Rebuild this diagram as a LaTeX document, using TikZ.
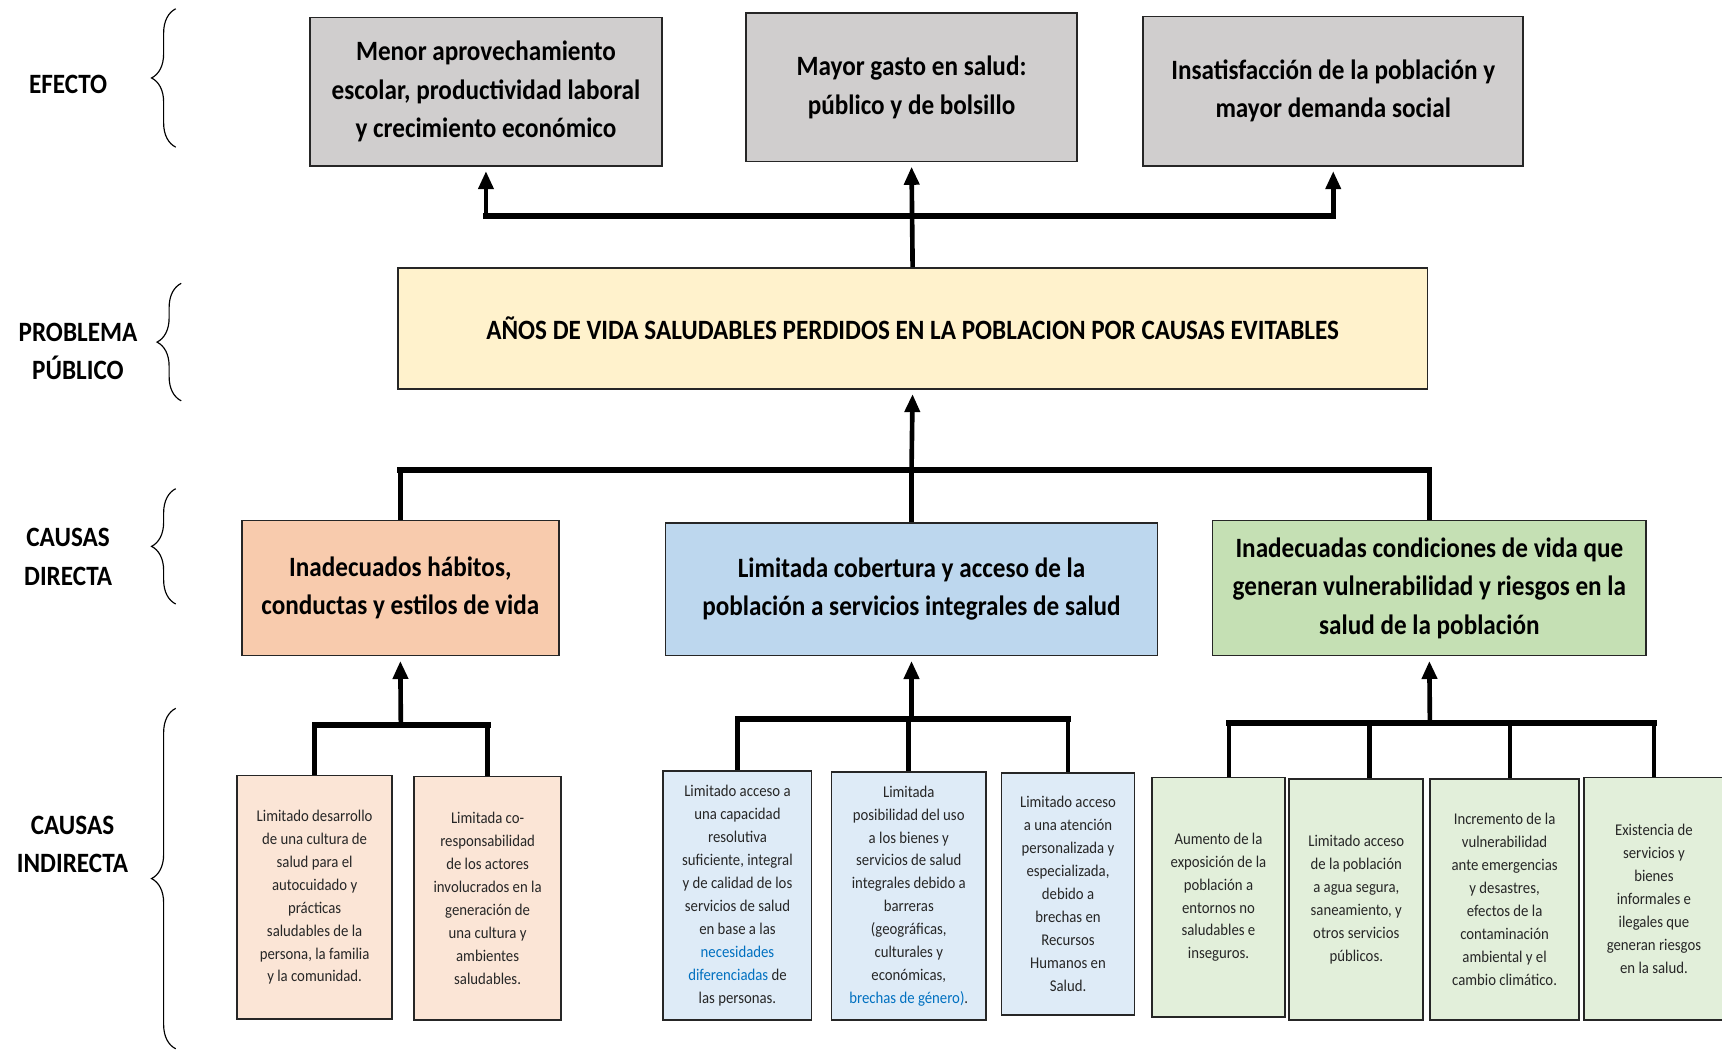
\documentclass[tikz,border=0pt]{standalone}
\usepackage{fontspec}
\setmainfont{Carlito}[FakeStretch=0.9]
\usepackage{xcolor}
\usetikzlibrary{arrows.meta, positioning, calc, decorations.pathreplacing}
\definecolor{efecto}{HTML}{D0CECE}
\definecolor{problema}{HTML}{FFF2CC}
\definecolor{habitos}{HTML}{F8CBAD}
\definecolor{habitosl}{HTML}{FBE5D6}
\definecolor{cobertura}{HTML}{BDD7EE}
\definecolor{cobertural}{HTML}{DEEBF7}
\definecolor{vida}{HTML}{C5E0B4}
\definecolor{vidal}{HTML}{E2EFDA}
\definecolor{enlace}{HTML}{0070C0}

\begin{document}
\begin{tikzpicture}[x=0.02cm, y=-0.02cm, every node/.style={align=center, inner sep=2pt},
  big/.style={draw=black!85, line width=0.9pt, font=\fontsize{14.5}{19.9}\selectfont\bfseries},
  small/.style={draw=black!85, line width=0.9pt, font=\fontsize{8.5}{11.9}\selectfont, text=black!85},
  lbl/.style={font=\fontsize{14.5}{19.9}\selectfont\bfseries},
  bus/.style={line width=3pt, line cap=rect},
  link/.style={line width=2.4pt},
  arr/.style={line width=2.4pt, -{Triangle[length=0.33cm, width=0.27cm]}, shorten >=0.08cm},
  brc/.style={decorate, decoration={brace, amplitude=0.44cm}, line width=0.6pt}]
  \useasboundingbox (0,0) rectangle (1568,956);
  % niveles
  \node[lbl] (lefecto) at (62,77) {EFECTO};
  \node[lbl] (lproblema) at (71,320) {PROBLEMA\\PÚBLICO};
  \node[lbl] (ldirecta) at (62,507) {CAUSAS\\DIRECTA};
  \node[lbl] (lindirecta) at (66,769) {CAUSAS\\INDIRECTA};
  \draw[brc] (160,134) -- (160,8);
  \draw[brc] (165,365) -- (165,258);
  \draw[brc] (160,550) -- (160,445);
  \draw[brc] (160,955) -- (160,645);
  % efectos
  \node[big, fill=efecto, minimum width=6.42cm, minimum height=2.70cm] (e1) at (442.5,83.5) {Menor aprovechamiento\\escolar, productividad laboral\\y crecimiento económico};
  \node[big, fill=efecto, minimum width=6.04cm, minimum height=2.70cm] (e2) at (830,79.5) {Mayor gasto en salud:\\público y de bolsillo};
  \node[big, fill=efecto, minimum width=6.92cm, minimum height=2.72cm] (e3) at (1214,83) {Insatisfacción de la población y\\mayor demanda social};
  % problema
  \node[big, fill=problema, minimum width=18.76cm, minimum height=2.20cm] (p) at (831,299) {AÑOS DE VIDA SALUDABLES PERDIDOS EN LA POBLACION POR CAUSAS EVITABLES};
  % causas directas
  \node[big, fill=habitos, minimum width=5.78cm, minimum height=2.46cm] (d1) at (364.5,535.5) {Inadecuados hábitos,\\conductas y estilos de vida};
  \node[big, fill=cobertura, minimum width=8.96cm, minimum height=2.42cm] (d2) at (830,536.5) {Limitada cobertura y acceso de la\\población a servicios integrales de salud};
  \node[big, fill=vida, minimum width=7.90cm, minimum height=2.46cm] (d3) at (1301.5,535.5) {Inadecuadas condiciones de vida que\\generan vulnerabilidad y riesgos en la\\salud de la población};
  % causas indirectas
  \node[small, fill=habitosl, minimum width=2.82cm, minimum height=4.44cm] (i1) at (286.5,817) {Limitado desarrollo\\de una cultura de\\salud para el\\autocuidado y\\prácticas\\saludables de la\\persona, la familia\\y la comunidad.};
  \node[small, fill=habitosl, minimum width=2.68cm, minimum height=4.44cm] (i2) at (444,818) {Limitada co-\\responsabilidad\\de los actores\\involucrados en la\\generación de\\una cultura y\\ambientes\\saludables.};
  \node[small, fill=cobertural, minimum width=2.70cm, minimum height=4.54cm] (i3) at (671.5,815.5) {Limitado acceso a\\una capacidad\\resolutiva\\suficiente, integral\\y de calidad de los\\servicios de salud\\en base a las\\\textcolor{enlace}{necesidades}\\\textcolor{enlace}{diferenciadas} de\\las personas.};
  \node[small, fill=cobertural, minimum width=2.82cm, minimum height=4.52cm] (i4) at (827.5,816) {Limitada\\posibilidad del uso\\a los bienes y\\servicios de salud\\integrales debido a\\barreras\\(geográficas,\\culturales y\\económicas,\\\textcolor{enlace}{brechas de género)}.};
  \node[small, fill=cobertural, minimum width=2.42cm, minimum height=4.40cm] (i5) at (972.5,814) {Limitado acceso\\a una atención\\personalizada y\\especializada,\\debido a\\brechas en\\Recursos\\Humanos en\\Salud.};
  \node[small, fill=vidal, minimum width=2.42cm, minimum height=4.36cm] (i6) at (1109.5,817) {Aumento de la\\exposición de la\\población a\\entornos no\\saludables e\\inseguros.};
  \node[small, fill=vidal, minimum width=2.44cm, minimum height=4.40cm] (i7) at (1235,819) {Limitado acceso\\de la población\\a agua segura,\\saneamiento, y\\otros servicios\\públicos.};
  \node[small, fill=vidal, minimum width=2.72cm, minimum height=4.40cm] (i8) at (1370,819) {Incremento de la\\vulnerabilidad\\ante emergencias\\y desastres,\\efectos de la\\contaminación\\ambiental y el\\cambio climático.};
  \node[small, fill=vidal, minimum width=2.56cm, minimum height=4.42cm] (i9) at (1506,818.5) {Existencia de\\servicios y\\bienes\\informales e\\ilegales que\\generan riesgos\\en la salud.};
  % problema -> efectos
  \coordinate (top) at (830,197);
  \draw[bus] (top -| e1.south) -- (top -| e3.south);
  \draw[arr] (top -| e1.south) -- (e1.south);
  \draw[arr] (p.north) -- (e2.south);
  \draw[arr] (top -| e3.south) -- (e3.south);
  % causas directas -> problema
  \coordinate (mid) at (830,428);
  \draw[bus] (mid -| d1.north) -- (mid -| d3.north);
  \draw[arr] (mid) -- (p.south);
  \draw[link] (mid -| d1.north) -- (d1.north);
  \draw[link] (mid) -- (d2.north);
  \draw[link] (mid -| d3.north) -- (d3.north);
  % causas indirectas -> causas directas
  \coordinate (g1) at (365,660);
  \draw[arr] (g1) -- (d1.south);
  \draw[bus] (g1 -| i1.north) -- (g1 -| i2.north);
  \draw[link] (g1 -| i1.north) -- (i1.north);
  \draw[link] (g1 -| i2.north) -- (i2.north);
  \coordinate (g2) at (830,655);
  \draw[arr] (g2) -- (d2.south);
  \draw[bus] (g2 -| i3.north) -- (g2 -| i5.north);
  \draw[link] (g2 -| i3.north) -- (i3.north);
  \draw[link] (g2 -| i4.north) -- (i4.north);
  \draw[link] (g2 -| i5.north) -- (i5.north);
  \coordinate (g3) at (1302,658);
  \draw[arr] (g3) -- (d3.south);
  \draw[bus] ([xshift=0.19cm]i6.north |- g3) -- (g3 -| i9.north);
  \draw[link] ([xshift=0.19cm]i6.north |- g3) -- ([xshift=0.19cm]i6.north);
  \draw[link] ([xshift=0.24cm]i7.north |- g3) -- ([xshift=0.24cm]i7.north);
  \draw[link] ([xshift=0.10cm]i8.north |- g3) -- ([xshift=0.10cm]i8.north);
  \draw[link] (g3 -| i9.north) -- (i9.north);
\end{tikzpicture}
\end{document}
